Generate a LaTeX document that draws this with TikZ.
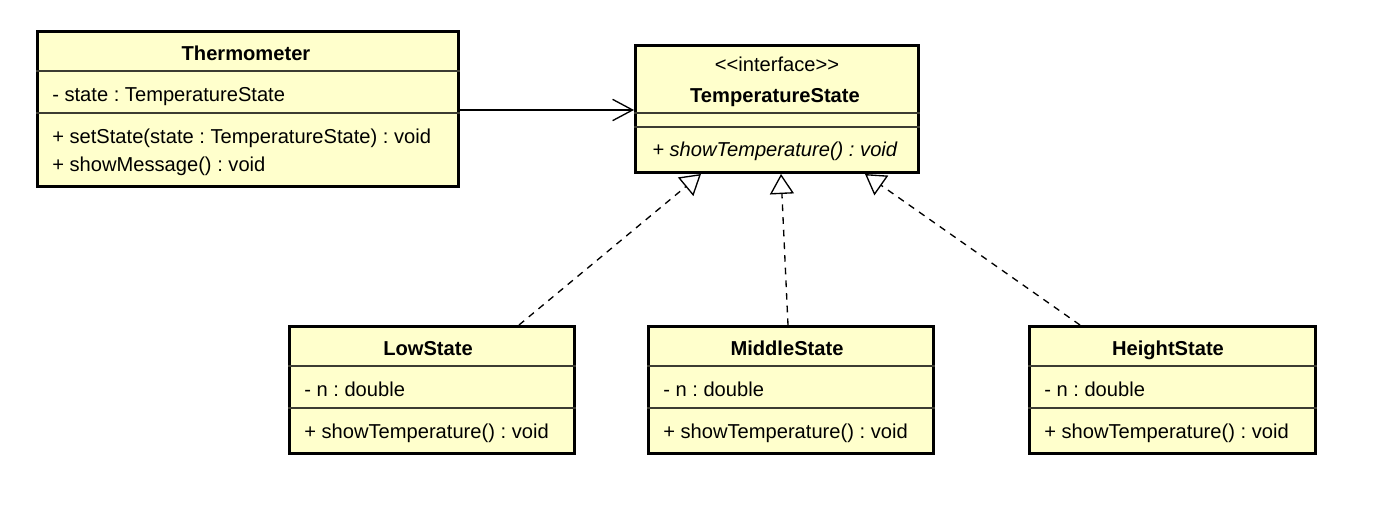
\documentclass[tikz,border=0pt]{standalone}
\usepackage{fontspec}
\setmainfont{Liberation Sans}
\frenchspacing
\usetikzlibrary{arrows.meta,backgrounds}
\definecolor{umlfill}{RGB}{255,255,204}
\definecolor{sepcol}{RGB}{60,60,50}
\begin{document}
\begin{tikzpicture}[x=0.75pt,y=-0.75pt,
  classbox/.style={draw=black, line width=2.2pt, fill=umlfill, inner sep=0pt},
  sepline/.style={draw=sepcol, line width=1.1pt},
  umltext/.style={inner sep=0pt, font=\fontsize{15.1}{17}\selectfont\frenchspacing},
  lefttext/.style={umltext, anchor=base west},
  ctext/.style={umltext, anchor=base},
  titletext/.style={umltext, anchor=base, font=\fontsize{15.1}{17}\selectfont\bfseries},
  assoc/.style={draw=black, line width=1pt, -{Straight Barb[length=15pt,width=16pt,line width=1pt]}},
  realize/.style={draw=black, line width=1pt, dash pattern=on 5pt off 4.5pt,
     -{Triangle[open,length=15pt,width=18pt,line width=1pt,fill=white]}}]
\useasboundingbox (0,0) rectangle (1382,513);

% ---------- class boxes ----------
\node[classbox, minimum width=318pt-2.2pt, minimum height=118.5pt-2.2pt] (therm) at (248,109) {};
\node[classbox, minimum width=214.5pt-2.2pt, minimum height=97.5pt-2.2pt] (iface) at (777,109) {};
\node[classbox, minimum width=216pt-2.2pt, minimum height=97.5pt-2.2pt] (low) at (432,390) {};
\node[classbox, minimum width=216pt-2.2pt, minimum height=97.5pt-2.2pt] (mid) at (791,390) {};
\node[classbox, minimum width=216.75pt-2.2pt, minimum height=97.5pt-2.2pt] (high) at (1172.5,390) {};

% ---------- Thermometer ----------
\draw[sepline] (therm.west |- 0,71) -- (therm.east |- 0,71);
\draw[sepline] (therm.west |- 0,113) -- (therm.east |- 0,113);
\node[titletext] (thermT) at (246,61) {Thermometer};
\node[lefttext] (thermA) at (52,102) {- state : TemperatureState};
\node[lefttext] (thermM1) at (52,144) {+ setState(state : TemperatureState) : void};
\node[lefttext] (thermM2) at (52,172) {+ showMessage() : void};

% ---------- TemperatureState ----------
\draw[sepline] (iface.west |- 0,113) -- (iface.east |- 0,113);
\draw[sepline] (iface.west |- 0,127) -- (iface.east |- 0,127);
\node[ctext] (ifaceS) at (777,72) {<{}<interface>{}>};
\node[titletext] (ifaceT) at (775,103) {TemperatureState};
\node[lefttext, font=\fontsize{15.1}{17}\selectfont\itshape] (ifaceM) at (652,157) {+ showTemperature() : void};

% ---------- LowState ----------
\draw[sepline] (low.west |- 0,366) -- (low.east |- 0,366);
\draw[sepline] (low.west |- 0,408) -- (low.east |- 0,408);
\node[titletext] (lowT) at (428,355) {LowState};
\node[lefttext] (lowA) at (304,397) {- n : double};
\node[lefttext] (lowM) at (304,438) {+ showTemperature() : void};

% ---------- MiddleState ----------
\draw[sepline] (mid.west |- 0,366) -- (mid.east |- 0,366);
\draw[sepline] (mid.west |- 0,408) -- (mid.east |- 0,408);
\node[titletext] (midT) at (787,355) {MiddleState};
\node[lefttext] (midA) at (663,397) {- n : double};
\node[lefttext] (midM) at (663,438) {+ showTemperature() : void};

% ---------- HeightState ----------
\draw[sepline] (high.west |- 0,366) -- (high.east |- 0,366);
\draw[sepline] (high.west |- 0,408) -- (high.east |- 0,408);
\node[titletext] (highT) at (1168,355) {HeightState};
\node[lefttext] (highA) at (1044,397) {- n : double};
\node[lefttext] (highM) at (1044,438) {+ showTemperature() : void};

% ---------- connectors ----------
\begin{scope}[on background layer]
\fill[white] (0,0) rectangle (1382,513);
\draw[assoc] (therm.east |- 0,110) -- (iface.west |- 0,110);
\draw[realize] ([xshift=65.25pt]low.north) -- ([xshift=-57pt]iface.south);
\draw[realize] ([xshift=-2.25pt]mid.north) -- ([xshift=3pt]iface.south);
\draw[realize] ([xshift=-69.4pt]high.north) -- ([xshift=66pt]iface.south);
\end{scope}
\end{tikzpicture}
\end{document}
